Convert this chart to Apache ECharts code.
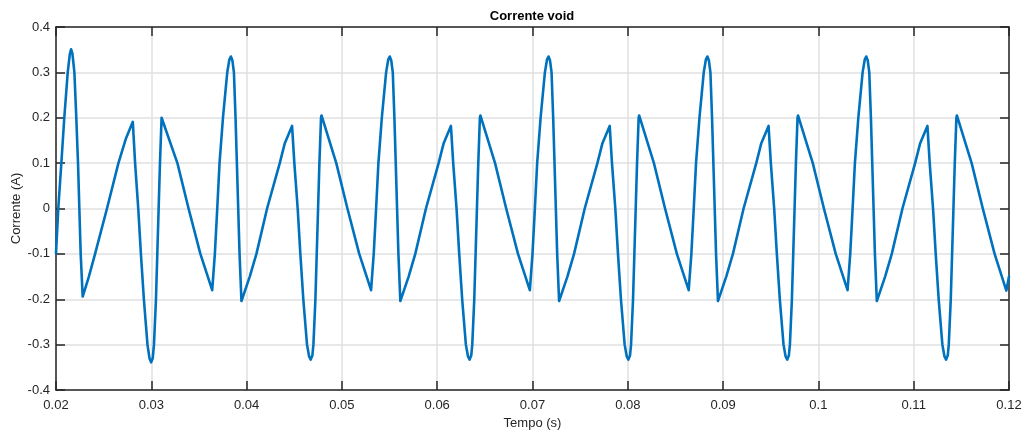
<!DOCTYPE html>
<html>
<head>
<meta charset="utf-8">
<title>Corrente void</title>
<script src="https://cdn.jsdelivr.net/npm/echarts@6/dist/echarts.min.js"></script>
<style>
  html, body { margin: 0; padding: 0; background: #ffffff; }
  #chart { width: 1027px; height: 432px; }
</style>
</head>
<body>
<div id="chart"></div>
<script>
// Tempo (s) sample instants of the simulated void current
const tempo = [
  0.02000, 0.02024, 0.02056, 0.02087, 0.02123, 0.02145, 0.02158, 0.02172, 0.02193, 0.02213,
  0.02231, 0.02245, 0.02259, 0.02280, 0.02345, 0.02410, 0.02535, 0.02655, 0.02735, 0.02806,
  0.02830, 0.02863, 0.02891, 0.02922, 0.02960, 0.02981, 0.02998, 0.03015, 0.03028, 0.03049,
  0.03063, 0.03077, 0.03091, 0.03108, 0.03113,
  // ciclo 1
  0.03274, 0.03391, 0.03515, 0.03639, 0.03667, 0.03692, 0.03716, 0.03752, 0.03797, 0.03819,
  0.03835, 0.03851, 0.03867, 0.03884, 0.03898, 0.03912, 0.03926, 0.03946, 0.04033, 0.04103,
  0.04215, 0.04348, 0.04401, 0.04477, 0.04501, 0.04536, 0.04564, 0.04595, 0.04634, 0.04656,
  0.04673, 0.04690, 0.04701, 0.04722, 0.04736, 0.04750, 0.04764, 0.04781, 0.04786,
  // ciclo 2
  0.04941, 0.05058, 0.05182, 0.05306, 0.05334, 0.05359, 0.05383, 0.05419, 0.05464, 0.05486,
  0.05502, 0.05518, 0.05534, 0.05551, 0.05565, 0.05579, 0.05593, 0.05613, 0.05700, 0.05770,
  0.05882, 0.06015, 0.06068, 0.06144, 0.06168, 0.06203, 0.06231, 0.06262, 0.06301, 0.06323,
  0.06340, 0.06357, 0.06368, 0.06389, 0.06403, 0.06417, 0.06431, 0.06448, 0.06453,
  // ciclo 3
  0.06607, 0.06724, 0.06848, 0.06972, 0.07000, 0.07025, 0.07049, 0.07085, 0.07130, 0.07152,
  0.07168, 0.07184, 0.07200, 0.07217, 0.07231, 0.07245, 0.07259, 0.07279, 0.07366, 0.07436,
  0.07548, 0.07681, 0.07734, 0.07810, 0.07834, 0.07869, 0.07897, 0.07928, 0.07967, 0.07989,
  0.08006, 0.08023, 0.08034, 0.08055, 0.08069, 0.08083, 0.08097, 0.08114, 0.08119,
  // ciclo 4
  0.08274, 0.08391, 0.08515, 0.08639, 0.08667, 0.08692, 0.08716, 0.08752, 0.08797, 0.08819,
  0.08835, 0.08851, 0.08867, 0.08884, 0.08898, 0.08912, 0.08926, 0.08946, 0.09033, 0.09103,
  0.09215, 0.09348, 0.09401, 0.09477, 0.09501, 0.09536, 0.09564, 0.09595, 0.09634, 0.09656,
  0.09673, 0.09690, 0.09701, 0.09722, 0.09736, 0.09750, 0.09764, 0.09781, 0.09786,
  // ciclo 5
  0.09941, 0.10058, 0.10182, 0.10306, 0.10334, 0.10359, 0.10383, 0.10419, 0.10464, 0.10486,
  0.10502, 0.10518, 0.10534, 0.10551, 0.10565, 0.10579, 0.10593, 0.10613, 0.10700, 0.10770,
  0.10882, 0.11015, 0.11068, 0.11144, 0.11168, 0.11203, 0.11231, 0.11262, 0.11301, 0.11323,
  0.11340, 0.11357, 0.11368, 0.11389, 0.11403, 0.11417, 0.11431, 0.11448, 0.11453,
  // final
  0.11608, 0.11725, 0.11849, 0.11972, 0.12000
];

// Corrente (A) at each instant above
const corrente = [
  -0.099, 0.000, 0.100, 0.200, 0.300, 0.340, 0.351, 0.342, 0.300, 0.200,
  0.100, 0.000, -0.100, -0.194, -0.150, -0.100, 0.000, 0.100, 0.155, 0.191,
  0.100, 0.000, -0.100, -0.200, -0.300, -0.330, -0.339, -0.330, -0.300, -0.200,
  -0.100, 0.000, 0.100, 0.200, 0.204,
  // ciclo 1
  0.100, 0.000, -0.100, -0.180, -0.100, 0.000, 0.100, 0.200, 0.300, 0.328,
  0.335, 0.326, 0.300, 0.200, 0.100, 0.000, -0.100, -0.204, -0.150, -0.100,
  0.000, 0.100, 0.144, 0.182, 0.100, 0.000, -0.100, -0.200, -0.300, -0.326,
  -0.333, -0.324, -0.300, -0.200, -0.100, 0.000, 0.100, 0.200, 0.205,
  // ciclo 2
  0.100, 0.000, -0.100, -0.180, -0.100, 0.000, 0.100, 0.200, 0.300, 0.328,
  0.335, 0.326, 0.300, 0.200, 0.100, 0.000, -0.100, -0.204, -0.150, -0.100,
  0.000, 0.100, 0.144, 0.182, 0.100, 0.000, -0.100, -0.200, -0.300, -0.326,
  -0.333, -0.324, -0.300, -0.200, -0.100, 0.000, 0.100, 0.200, 0.205,
  // ciclo 3
  0.100, 0.000, -0.100, -0.180, -0.100, 0.000, 0.100, 0.200, 0.300, 0.328,
  0.335, 0.326, 0.300, 0.200, 0.100, 0.000, -0.100, -0.204, -0.150, -0.100,
  0.000, 0.100, 0.144, 0.182, 0.100, 0.000, -0.100, -0.200, -0.300, -0.326,
  -0.333, -0.324, -0.300, -0.200, -0.100, 0.000, 0.100, 0.200, 0.205,
  // ciclo 4
  0.100, 0.000, -0.100, -0.180, -0.100, 0.000, 0.100, 0.200, 0.300, 0.328,
  0.335, 0.326, 0.300, 0.200, 0.100, 0.000, -0.100, -0.204, -0.150, -0.100,
  0.000, 0.100, 0.144, 0.182, 0.100, 0.000, -0.100, -0.200, -0.300, -0.326,
  -0.333, -0.324, -0.300, -0.200, -0.100, 0.000, 0.100, 0.200, 0.205,
  // ciclo 5
  0.100, 0.000, -0.100, -0.180, -0.100, 0.000, 0.100, 0.200, 0.300, 0.328,
  0.335, 0.326, 0.300, 0.200, 0.100, 0.000, -0.100, -0.204, -0.150, -0.100,
  0.000, 0.100, 0.144, 0.182, 0.100, 0.000, -0.100, -0.200, -0.300, -0.326,
  -0.333, -0.324, -0.300, -0.200, -0.100, 0.000, 0.100, 0.200, 0.205,
  // final
  0.100, 0.000, -0.100, -0.181, -0.150
];

// Axis tick labels
const xTickLabels = ['0.02', '0.03', '0.04', '0.05', '0.06', '0.07', '0.08', '0.09', '0.1', '0.11', '0.12'];
const yTickLabels = ['-0.4', '-0.3', '-0.2', '-0.1', '0', '0.1', '0.2', '0.3', '0.4'];

const X_MIN = 0.02, X_MAX = 0.12, X_STEP = 0.01;
const Y_MIN = -0.4, Y_MAX = 0.4, Y_STEP = 0.1;

const INK = '#262626';
const GRID = '#e1e1e1';
const FONT = '"Liberation Sans", Arial, Helvetica, sans-serif';

const linePoints = tempo.map((t, i) => [t, corrente[i]]);

const frameLine = { show: true, onZero: false, lineStyle: { color: INK, width: 1.5 } };
const innerTick = { show: true, inside: true, length: 9, lineStyle: { color: INK, width: 1.5 } };

const chart = echarts.init(document.getElementById('chart'), null, { renderer: 'canvas' });

chart.setOption({
  animation: false,
  backgroundColor: '#ffffff',
  title: {
    text: 'Corrente void',
    left: 532,
    top: 10,
    padding: 0,
    textAlign: 'center',
    textStyle: { fontFamily: FONT, fontSize: 13, fontWeight: 'bold', color: '#000000' }
  },
  grid: { left: 56, right: 18, top: 27, bottom: 42, containLabel: false, outerBoundsMode: 'none' },
  xAxis: [
    {
      type: 'value',
      position: 'bottom',
      min: X_MIN, max: X_MAX, interval: X_STEP,
      name: 'Tempo (s)',
      nameLocation: 'middle',
      nameGap: 27,
      nameMoveOverlap: false,
      nameTextStyle: { fontFamily: FONT, fontSize: 13, color: INK },
      axisLine: frameLine,
      axisTick: innerTick,
      axisLabel: {
        margin: 9,
        fontFamily: FONT, fontSize: 13, color: INK,
        formatter: v => xTickLabels[Math.round((v - X_MIN) / X_STEP)]
      },
      splitLine: { show: true, lineStyle: { color: GRID, width: 1.5 } }
    },
    {
      type: 'value',
      position: 'top',
      min: X_MIN, max: X_MAX, interval: X_STEP,
      axisLine: frameLine,
      axisTick: innerTick,
      axisLabel: { show: false },
      splitLine: { show: false }
    }
  ],
  yAxis: [
    {
      type: 'value',
      position: 'left',
      min: Y_MIN, max: Y_MAX, interval: Y_STEP,
      name: 'Corrente (A)',
      nameLocation: 'middle',
      nameGap: 33,
      nameMoveOverlap: false,
      nameTextStyle: { fontFamily: FONT, fontSize: 13, color: INK },
      axisLine: frameLine,
      axisTick: innerTick,
      axisLabel: {
        margin: 6,
        fontFamily: FONT, fontSize: 13, color: INK,
        formatter: v => yTickLabels[Math.round((v - Y_MIN) / Y_STEP)]
      },
      splitLine: { show: true, lineStyle: { color: GRID, width: 1.5 } }
    },
    {
      type: 'value',
      position: 'right',
      min: Y_MIN, max: Y_MAX, interval: Y_STEP,
      axisLine: frameLine,
      axisTick: innerTick,
      axisLabel: { show: false },
      splitLine: { show: false }
    }
  ],
  series: [
    {
      name: 'Corrente',
      type: 'line',
      xAxisIndex: 0,
      yAxisIndex: 0,
      data: linePoints,
      showSymbol: false,
      symbol: 'none',
      smooth: false,
      clip: true,
      lineStyle: { color: '#0072BD', width: 2.6, join: 'round', cap: 'round' },
      z: 3
    }
  ]
});
</script>
</body>
</html>
